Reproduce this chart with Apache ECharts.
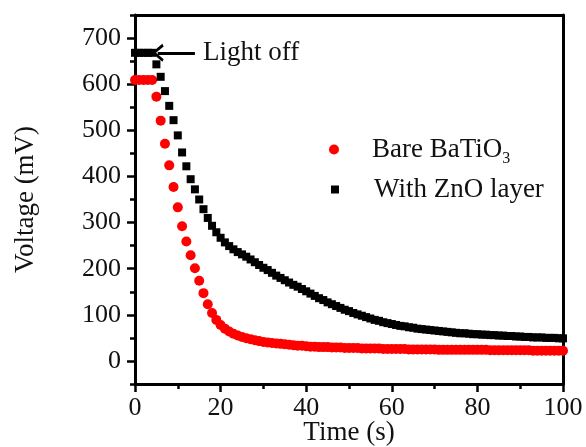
<!DOCTYPE html>
<html>
<head>
<meta charset="utf-8">
<script src="https://cdn.jsdelivr.net/npm/echarts@6/dist/echarts.min.js"></script>
<style>
  html, body { margin: 0; padding: 0; background: #fff; }
  #chart { width: 586px; height: 447px; }
</style>
</head>
<body>
<div id="chart"></div>
<script>
// Photovoltage decay after the light is switched off (sampled every 1 s)
var timeSec = [];
for (var i = 0; i <= 100; i++) timeSec.push(i);

var bareBaTiO3 = [
  609, 609, 609, 609, 609, 573, 521, 471, 424, 377,
  333, 292, 259, 229, 201, 174, 147, 123, 104, 89,
  78, 70, 64, 59, 55, 52, 49, 47, 45, 43,
  41, 40, 39, 38, 37, 36, 35, 34, 33, 33,
  32, 31, 31, 30, 30, 30, 29, 29, 29, 28,
  28, 28, 28, 27, 27, 27, 27, 27, 26, 26,
  26, 26, 26, 26, 25, 25, 25, 25, 25, 25,
  25, 24, 24, 24, 24, 24, 24, 24, 24, 24,
  24, 24, 24, 23, 23, 23, 23, 23, 23, 23,
  23, 23, 23, 22, 22, 22, 22, 22, 22, 22,
  22
];

var withZnO = [
  668, 668, 668, 668, 668, 643, 616, 585, 553, 522,
  489, 452, 422, 394, 372, 350, 329, 310, 293, 279,
  267, 257, 249, 242, 236, 231, 226, 220, 214, 208,
  202, 197, 191, 185, 180, 175, 170, 165, 161, 156,
  151, 146, 141, 136, 132, 127, 123, 119, 115, 111,
  108, 104, 101, 98, 95, 92, 89, 87, 84, 82,
  80, 78, 76, 75, 73, 72, 70, 69, 68, 67,
  66, 65, 64, 63, 62, 61, 60, 60, 59, 58,
  58, 57, 57, 56, 56, 55, 55, 54, 54, 53,
  53, 52, 52, 51, 51, 51, 50, 50, 50, 49,
  49
];

var xTicks = [0, 20, 40, 60, 80, 100];
var yTicks = [0, 100, 200, 300, 400, 500, 600, 700];
var yMinorTicks = [-50, 50, 150, 250, 350, 450, 550, 650, 750];

// "Light off" arrow: from tail to head, in data units
var arrowTail = [14, 668];
var arrowHead = [5.3, 668];

var FONT = "'Liberation Serif', 'Times New Roman', serif";

function pairs(xs, ys) {
  return xs.map(function (x, k) { return [x, ys[k]]; });
}

var chart = echarts.init(document.getElementById('chart'));

var axisLineStyle = { color: '#000', width: 3 };

chart.setOption({
  animation: false,
  backgroundColor: '#fff',
  grid: { left: 135, right: 23, top: 15, bottom: 63, containLabel: false, outerBoundsMode: 'none' },
  legend: [
    {
      data: ['Bare BaTiO3'],
      orient: 'vertical',
      left: 324, top: 131,
      itemWidth: 10, itemHeight: 10,
      textStyle: {
        fontFamily: FONT, fontSize: 27, color: '#111',
        padding: [0, 0, 0, 28],
        rich: {
          b: { fontFamily: FONT, fontSize: 27, color: '#111' },
          s: { fontFamily: FONT, fontSize: 16, color: '#111', padding: [18, 0, 0, 0] }
        }
      },
      formatter: function () { return '{b|Bare BaTiO}{s|3}'; }
    },
    {
      data: ['With ZnO layer'],
      orient: 'vertical',
      left: 326, top: 171,
      itemWidth: 8, itemHeight: 8,
      textStyle: { fontFamily: FONT, fontSize: 27, color: '#111', padding: [0, 0, 0, 30] }
    }
  ],
  xAxis: [
    {
      type: 'value', min: 0, max: 100, interval: 20,
      name: 'Time (s)', nameLocation: 'middle', nameGap: 35, nameMoveOverlap: false,
      nameTextStyle: { fontFamily: FONT, fontSize: 27, color: '#111' },
      axisLine: { onZero: false, lineStyle: axisLineStyle },
      axisTick: { show: true, inside: false, length: 8, lineStyle: { color: '#000', width: 2.5 } },
      minorTick: { show: true, splitNumber: 2, length: 5, lineStyle: { color: '#000', width: 2.5 } },
      axisLabel: { customValues: xTicks, fontFamily: FONT, fontSize: 26, color: '#111', margin: 11 },
      splitLine: { show: false }
    },
    {
      type: 'value', min: 0, max: 100, position: 'top',
      axisLine: { onZero: false, lineStyle: axisLineStyle },
      axisTick: { show: false }, axisLabel: { show: false }, splitLine: { show: false }
    }
  ],
  yAxis: [
    {
      type: 'value', min: -50, max: 750,
      name: 'Voltage (mV)', nameLocation: 'middle', nameGap: 96, nameMoveOverlap: false,
      nameTextStyle: { fontFamily: FONT, fontSize: 27, color: '#111' },
      axisLine: { onZero: false, lineStyle: axisLineStyle },
      axisTick: { show: true, customValues: yTicks, length: 8, lineStyle: { color: '#000', width: 2.5 } },
      axisLabel: { customValues: yTicks, fontFamily: FONT, fontSize: 26, color: '#111', margin: 14 },
      splitLine: { show: false }
    },
    {
      type: 'value', min: -50, max: 750, position: 'left',
      axisLine: { show: false },
      axisTick: { show: true, customValues: yMinorTicks, length: 5, lineStyle: { color: '#000', width: 2.5 } },
      axisLabel: { show: false }, splitLine: { show: false }
    },
    {
      type: 'value', min: -50, max: 750, position: 'right',
      axisLine: { onZero: false, lineStyle: axisLineStyle },
      axisTick: { show: false }, axisLabel: { show: false }, splitLine: { show: false }
    }
  ],
  series: [
    {
      name: 'Bare BaTiO3', type: 'scatter',
      symbol: 'circle', symbolSize: 10,
      itemStyle: { color: '#ff0000', opacity: 1 },
      data: pairs(timeSec, bareBaTiO3),
      z: 2
    },
    {
      name: 'With ZnO layer', type: 'scatter',
      symbol: 'rect', symbolSize: 8,
      itemStyle: { color: '#000', opacity: 1 },
      data: pairs(timeSec, withZnO),
      z: 3,
      markLine: {
        silent: true,
        symbol: ['none', 'path://M0,0L7,8L5,9L0,3.2L-5,9L-7,8Z'],
        symbolSize: [18, 12],
        lineStyle: { color: '#000', width: 3, type: 'solid' },
        label: {
          show: true, position: 'start', distance: 8,
          formatter: 'Light off',
          fontFamily: FONT, fontSize: 27, color: '#111'
        },
        data: [[{ coord: arrowTail }, { coord: arrowHead }]]
      }
    }
  ]
});
</script>
</body>
</html>
